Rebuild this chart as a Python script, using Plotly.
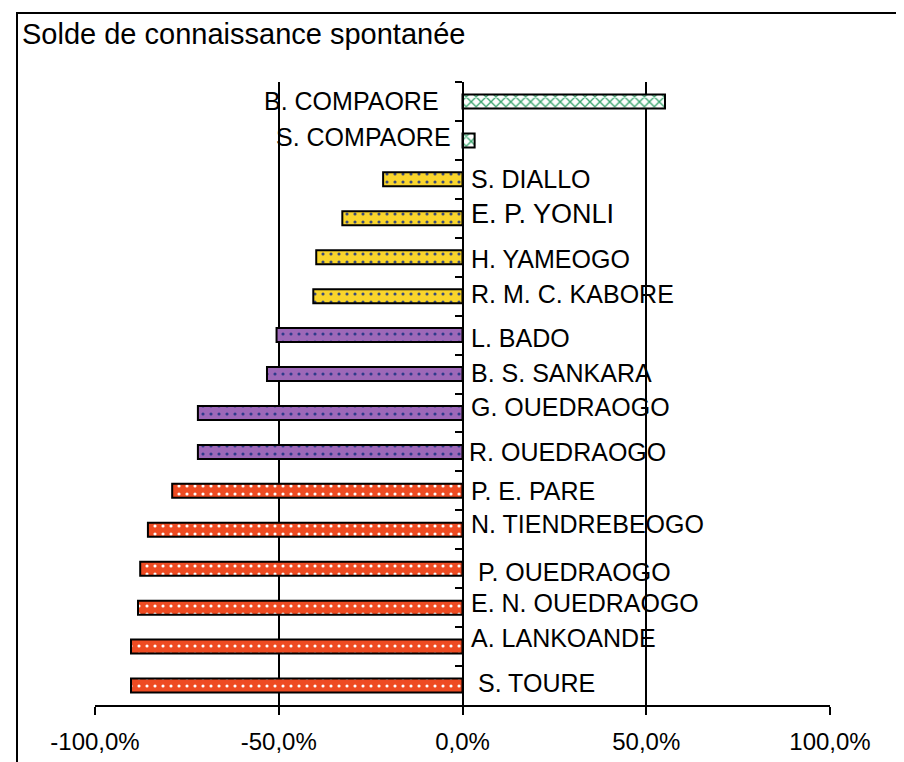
import plotly.graph_objects as go

# ---------------- data ----------------
candidates = [
    "B. COMPAORE", "S. COMPAORE", "S. DIALLO", "E. P. YONLI", "H. YAMEOGO",
    "R. M. C. KABORE", "L. BADO", "B. S. SANKARA", "G. OUEDRAOGO",
    "R. OUEDRAOGO", "P. E. PARE", "N. TIENDREBEOGO", "P. OUEDRAOGO",
    "E. N. OUEDRAOGO", "A. LANKOANDE", "S. TOURE",
]
values = [55.1, 3.3, -21.6, -32.7, -39.8, -40.6, -50.6, -53.2, -72.0, -72.0,
          -79.0, -85.6, -87.7, -88.3, -90.2, -90.2]
groups = ["green", "green", "yellow", "yellow", "yellow", "yellow",
          "purple", "purple", "purple", "purple",
          "red", "red", "red", "red", "red", "red"]
x_tick_values = [-100, -50, 0, 50, 100]
x_tick_labels = ["-100,0%", "-50,0%", "0,0%", "50,0%", "100,0%"]
chart_title = "Solde de connaissance spontanée"

# ---------------- styles ----------------
W, H = 904, 762
OFF = 8  # page body margin
FONT = "Liberation Sans, Arial, sans-serif"
group_styles = {
    "green": dict(bg="#ffffff", fg="#3aa56e", shape="x", size=7, solidity=0.35),
    "yellow": dict(bg="#f9d52c", fg="#3a4a7a", shape=".", size=8, solidity=0.12),
    "purple": dict(bg="#9d68b8", fg="#2e3a8a", shape=".", size=8, solidity=0.12),
    "red": dict(bg="#ee4b22", fg="#ffffff", shape=".", size=8, solidity=0.12),
}
label_font_size = {"E. P. YONLI": 27}
label_xshift = {"B. COMPAORE": -22, "S. COMPAORE": -10, "R. OUEDRAOGO": 4,
                "P. OUEDRAOGO": 13, "S. TOURE": 13}
label_yshift = {"S. COMPAORE": 3, "E. P. YONLI": 4, "H. YAMEOGO": -2,
                "R. M. C. KABORE": 2, "L. BADO": -3, "B. S. SANKARA": 1,
                "G. OUEDRAOGO": 6, "N. TIENDREBEOGO": 6, "P. OUEDRAOGO": -3,
                "E. N. OUEDRAOGO": 5, "A. LANKOANDE": 9, "S. TOURE": 3}


def px(x):
    return (x - OFF) / W


def py(y):
    return 1 - (y - OFF) / H


fig = go.Figure()
for g, st in group_styles.items():
    ys = [c for c, gg in zip(candidates, groups) if gg == g]
    xs = [v for v, gg in zip(values, groups) if gg == g]
    fig.add_trace(go.Bar(
        x=xs, y=ys, orientation="h", width=0.36,
        marker=dict(
            color=st["bg"],
            line=dict(color="black", width=2),
            pattern=dict(shape=st["shape"], fgcolor=st["fg"], bgcolor=st["bg"],
                         size=st["size"], solidity=st["solidity"], fillmode="replace"),
        ),
        showlegend=False, hoverinfo="skip",
    ))

x_left, x_right = 95, 830
y_top, y_bottom = 82, 705

annotations = []
for c, v in zip(candidates, values):
    size = label_font_size.get(c, 25)
    if v >= 0:
        anchor, shift = "right", label_xshift.get(c, -14)
    else:
        anchor, shift = "left", label_xshift.get(c, 6)
    annotations.append(dict(x=0, y=c, xref="x", yref="y", text=c, showarrow=False,
                            xanchor=anchor, xshift=shift, yshift=label_yshift.get(c, 0),
                            font=dict(family=FONT, size=size, color="black")))

annotations.append(dict(x=px(20), y=py(34), xref="paper", yref="paper",
                        text=chart_title, showarrow=False, xanchor="left", yanchor="middle",
                        font=dict(family=FONT, size=29, color="black")))

fig.update_layout(
    width=W, height=H,
    margin=dict(l=0, r=0, t=0, b=0, autoexpand=False),
    paper_bgcolor="white", plot_bgcolor="white",
    barmode="overlay",
    font=dict(family=FONT, color="black"),
    xaxis=dict(
        domain=[px(x_left), px(x_right)], range=[-100, 100], automargin=False,
        tickmode="array", tickvals=x_tick_values, ticktext=x_tick_labels,
        tickfont=dict(family=FONT, size=24, color="black"),
        ticks="outside", ticklen=8, tickwidth=2, tickcolor="black",
        ticklabelstandoff=6,
        showline=True, linecolor="black", linewidth=2,
        showgrid=True, gridcolor="black", gridwidth=2,
        zeroline=False, fixedrange=True,
    ),
    yaxis=dict(
        domain=[py(y_bottom), py(y_top)], automargin=False,
        anchor="free", position=px((x_left + x_right) / 2),
        categoryorder="array", categoryarray=candidates, autorange="reversed",
        showticklabels=False, ticks="outside", tickson="boundaries",
        ticklen=7, tickwidth=2, tickcolor="black",
        showline=True, linecolor="black", linewidth=2,
        showgrid=False, zeroline=False, fixedrange=True,
    ),
    annotations=annotations,
    shapes=[dict(type="rect", xref="paper", yref="paper",
                 x0=px(17), x1=px(902), y0=-0.05, y1=py(13),
                 line=dict(color="black", width=2), fillcolor="rgba(0,0,0,0)",
                 layer="below")],
)

fig.write_html("out.html")
